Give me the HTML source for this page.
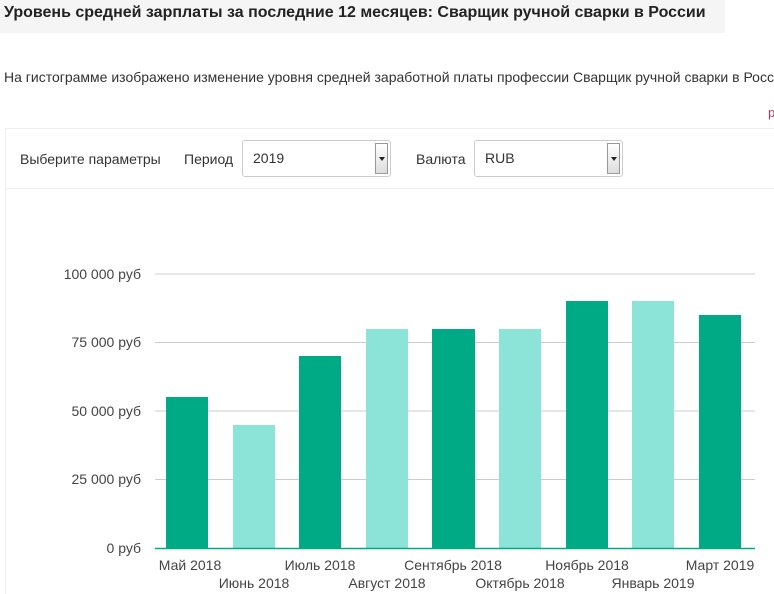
<!DOCTYPE html>
<html><head><meta charset="utf-8"><style>
html,body{margin:0;width:774px;height:594px;overflow:hidden}
body{background:#fff;font-family:"Liberation Sans",sans-serif;color:#333;position:relative}
.t{position:absolute;left:0;top:0;width:725px;height:33px;background:#f5f5f5;font-weight:bold;font-size:16px;line-height:26px;padding-left:4px;box-sizing:border-box;color:#222}
.d{position:absolute;left:4px;top:69px;font-size:14px;white-space:nowrap}
.p{position:absolute;left:5px;top:128px;width:769px;height:466px;border:1px solid #f0f0f0;border-bottom:none;border-right:none;box-sizing:border-box}
.l{position:absolute;font-size:14px;top:151px}
.s{position:absolute;top:140px;height:37px;border:1px solid #ccc;border-radius:3px;box-sizing:border-box;font-size:14px;line-height:35px;padding-left:10px}
.s i{position:absolute;right:2px;top:2px;width:13px;height:31px;border:1px solid #999;background:linear-gradient(#fff,#ddd);box-sizing:border-box}
.s i:after{content:"";position:absolute;left:3px;top:13px;border:3px solid transparent;border-top:4px solid #222}
</style></head><body>
<div class="t">Уровень средней зарплаты за последние 12 месяцев: Сварщик ручной сварки в России</div>
<div class="d">На гистограмме изображено изменение уровня средней заработной платы профессии Сварщик ручной сварки в России</div>
<div style="position:absolute;left:768px;top:105px;font-size:13px;color:#a04060">р</div>
<div class="p"></div>
<div style="position:absolute;left:6px;top:188px;width:768px;border-top:1px solid #f0f0f0"></div>
<div class="l" style="left:20px">Выберите параметры</div>
<div class="l" style="left:184px">Период</div>
<div class="s" style="left:242px;width:149px">2019<i></i></div>
<div class="l" style="left:416px">Валюта</div>
<div class="s" style="left:474px;width:149px">RUB<i></i></div>
<svg style="position:absolute;left:0;top:0" width="774" height="594" font-family="Liberation Sans,sans-serif" font-size="14" fill="#444">
<g stroke="#ccc"><line x1="155" x2="755" y1="274" y2="274"/><line x1="155" x2="755" y1="342.5" y2="342.5"/><line x1="155" x2="755" y1="411" y2="411"/><line x1="155" x2="755" y1="479.5" y2="479.5"/></g>
<g text-anchor="end"><text x="141" y="279">100 000 руб</text><text x="141" y="347">75 000 руб</text><text x="141" y="416">50 000 руб</text><text x="141" y="484">25 000 руб</text><text x="141" y="553">0 руб</text></g>
<g fill="#00aa85"><rect x="166" y="397" width="42" height="151"/><rect x="299" y="356" width="42" height="192"/><rect x="432" y="329" width="43" height="219"/><rect x="566" y="301" width="42" height="247"/><rect x="699" y="315" width="42" height="233"/></g>
<g fill="#8ce3d8"><rect x="233" y="425" width="42" height="123"/><rect x="366" y="329" width="42" height="219"/><rect x="499" y="329" width="42" height="219"/><rect x="632" y="301" width="42" height="247"/></g>
<line x1="155" x2="755" y1="548.5" y2="548.5" stroke="#00aa85" stroke-width="1.5"/>
<g text-anchor="middle"><text x="190" y="570">Май 2018</text><text x="320" y="570">Июль 2018</text><text x="453" y="570">Сентябрь 2018</text><text x="587" y="570">Ноябрь 2018</text><text x="720" y="570">Март 2019</text>
<text x="254" y="588">Июнь 2018</text><text x="387" y="588">Август 2018</text><text x="520" y="588">Октябрь 2018</text><text x="653" y="588">Январь 2019</text></g>
</svg>
</body></html>
